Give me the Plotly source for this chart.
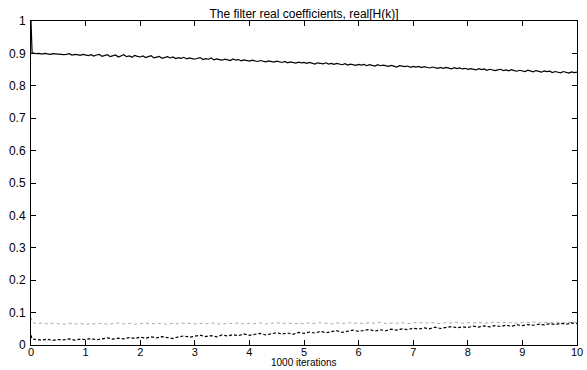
import plotly.graph_objects as go

# x positions (thousands of iterations)
iters_solid = [0.0, 0.02] + [round(0.05 * i, 2) for i in range(1, 201)]
iters_low = [0.0, 0.02] + [round(0.1 * i, 1) for i in range(1, 101)]

# solid black coefficient
coef_main = [1.000, 0.902,
    0.901, 0.899, 0.900, 0.898, 0.900, 0.899, 0.897, 0.899, 0.898, 0.897,
    0.898, 0.896, 0.897, 0.899, 0.895, 0.897, 0.896, 0.894, 0.897, 0.895,
    0.893, 0.896, 0.892, 0.895, 0.897, 0.891, 0.894, 0.896, 0.890, 0.893,
    0.895, 0.889, 0.893, 0.896, 0.890, 0.892, 0.888, 0.894, 0.891, 0.889,
    0.892, 0.887, 0.890, 0.893, 0.886, 0.889, 0.891, 0.885, 0.888, 0.890,
    0.886, 0.889, 0.884, 0.887, 0.885, 0.888, 0.883, 0.886, 0.884, 0.882,
    0.885, 0.887, 0.881, 0.884, 0.882, 0.886, 0.880, 0.883, 0.881, 0.879,
    0.882, 0.880, 0.878, 0.883, 0.879, 0.881, 0.877, 0.880, 0.878, 0.876,
    0.879, 0.877, 0.875, 0.878, 0.876, 0.874, 0.877, 0.875, 0.873, 0.876,
    0.874, 0.872, 0.875, 0.871, 0.874, 0.873, 0.870, 0.873, 0.871, 0.872,
    0.869, 0.872, 0.870, 0.867, 0.871, 0.869, 0.868, 0.871, 0.867, 0.869,
    0.866, 0.869, 0.867, 0.865, 0.868, 0.864, 0.867, 0.866, 0.863, 0.866,
    0.864, 0.866, 0.862, 0.865, 0.863, 0.861, 0.865, 0.862, 0.864, 0.861,
    0.860, 0.863, 0.861, 0.858, 0.862, 0.860, 0.859, 0.861, 0.857, 0.860,
    0.858, 0.860, 0.856, 0.859, 0.857, 0.855, 0.858, 0.856, 0.854, 0.857,
    0.854, 0.857, 0.855, 0.852, 0.856, 0.853, 0.855, 0.852, 0.854, 0.851,
    0.853, 0.851, 0.849, 0.853, 0.850, 0.852, 0.848, 0.851, 0.850, 0.847,
    0.849, 0.851, 0.847, 0.849, 0.846, 0.850, 0.847, 0.845, 0.848, 0.846,
    0.844, 0.848, 0.845, 0.843, 0.847, 0.845, 0.842, 0.846, 0.844, 0.845,
    0.841, 0.844, 0.843, 0.840, 0.844, 0.842, 0.839, 0.843, 0.841, 0.842]

# dotted grey coefficient
coef_dotted = [0.085, 0.070,
    0.066, 0.068, 0.065, 0.067, 0.066, 0.064, 0.067, 0.065, 0.066, 0.064,
    0.066, 0.065, 0.067, 0.064, 0.066, 0.068, 0.065, 0.067, 0.064, 0.066,
    0.068, 0.065, 0.067, 0.066, 0.064, 0.067, 0.065, 0.068, 0.066, 0.065,
    0.067, 0.065, 0.068, 0.066, 0.064, 0.067, 0.066, 0.068, 0.065, 0.067,
    0.066, 0.068, 0.065, 0.067, 0.069, 0.066, 0.068, 0.065, 0.067, 0.066,
    0.068, 0.066, 0.069, 0.067, 0.065, 0.068, 0.066, 0.069, 0.067, 0.068,
    0.066, 0.069, 0.067, 0.070, 0.066, 0.068, 0.067, 0.069, 0.066, 0.068,
    0.070, 0.067, 0.069, 0.068, 0.066, 0.069, 0.068, 0.070, 0.067, 0.069,
    0.068, 0.070, 0.067, 0.069, 0.071, 0.068, 0.070, 0.069, 0.067, 0.070,
    0.069, 0.071, 0.068, 0.070, 0.069, 0.071, 0.068, 0.070, 0.069, 0.071]

# dashed black coefficient
coef_dashed = [0.030, 0.018,
    0.017, 0.015, 0.018, 0.014, 0.017, 0.016, 0.019, 0.015, 0.018, 0.017,
    0.020, 0.016, 0.019, 0.022, 0.018, 0.021, 0.019, 0.023, 0.020, 0.024,
    0.021, 0.025, 0.022, 0.026, 0.023, 0.020, 0.025, 0.028, 0.024, 0.027,
    0.030, 0.026, 0.029, 0.025, 0.031, 0.028, 0.032, 0.029, 0.034, 0.030,
    0.033, 0.036, 0.031, 0.035, 0.038, 0.034, 0.037, 0.033, 0.039, 0.036,
    0.040, 0.037, 0.042, 0.038, 0.041, 0.044, 0.039, 0.043, 0.046, 0.042,
    0.045, 0.048, 0.043, 0.047, 0.044, 0.049, 0.046, 0.050, 0.047, 0.052,
    0.049, 0.053, 0.050, 0.055, 0.051, 0.054, 0.057, 0.053, 0.056, 0.054,
    0.058, 0.055, 0.059, 0.056, 0.060, 0.057, 0.061, 0.058, 0.062, 0.060,
    0.063, 0.061, 0.064, 0.062, 0.066, 0.063, 0.067, 0.064, 0.068, 0.066]

x_ticks = list(range(0, 11))
y_ticks = [round(0.1 * i, 1) for i in range(0, 11)]
y_tick_text = ["0", "0.1", "0.2", "0.3", "0.4", "0.5", "0.6", "0.7", "0.8", "0.9", "1"]

FONT = "Liberation Sans, Arial, Helvetica, sans-serif"

fig = go.Figure()
fig.add_trace(go.Scatter(x=iters_low, y=coef_dotted, mode="lines",
                         line=dict(color="#a8a8a8", width=1, dash="dot"), showlegend=False))
fig.add_trace(go.Scatter(x=iters_low, y=coef_dashed, mode="lines",
                         line=dict(color="black", width=1.2, dash="3px,2px"), showlegend=False))
fig.add_trace(go.Scatter(x=iters_solid, y=coef_main, mode="lines",
                         line=dict(color="black", width=1.2), showlegend=False))

axis_common = dict(showline=True, linecolor="black", linewidth=1, mirror="ticks",
                   ticks="inside", ticklen=5, tickcolor="black", tickwidth=1,
                   showgrid=False, zeroline=False, automargin=False)

fig.update_layout(
    width=587, height=370,
    margin=dict(l=31, r=10, t=21, b=25),
    paper_bgcolor="white", plot_bgcolor="white",
    font=dict(family=FONT, size=12, color="black"),
    title=dict(text="The filter real coefficients, real[H(k)]", x=0.5, xref="paper",
               xanchor="center", y=1, yref="paper", yanchor="bottom",
               pad=dict(b=3, t=0, l=0, r=0), automargin=False,
               font=dict(family=FONT, size=12, color="black")),
    xaxis=dict(range=[0, 10], tickvals=x_ticks, ticktext=[str(v) for v in x_ticks],
               ticklabelstandoff=-3, tickfont=dict(family=FONT, size=11, color="black"),
               **axis_common),
    yaxis=dict(range=[0, 1], tickvals=y_ticks, ticktext=y_tick_text,
               ticklabelstandoff=2, tickfont=dict(family=FONT, size=12, color="black"),
               **axis_common),
    annotations=[
        dict(text="1000 iterations", x=0.5, xref="paper",
             y=0, yref="paper", yanchor="bottom", yshift=-25, showarrow=False,
             font=dict(family=FONT, size=10, color="black")),
    ],
)

fig.write_html("out.html")
